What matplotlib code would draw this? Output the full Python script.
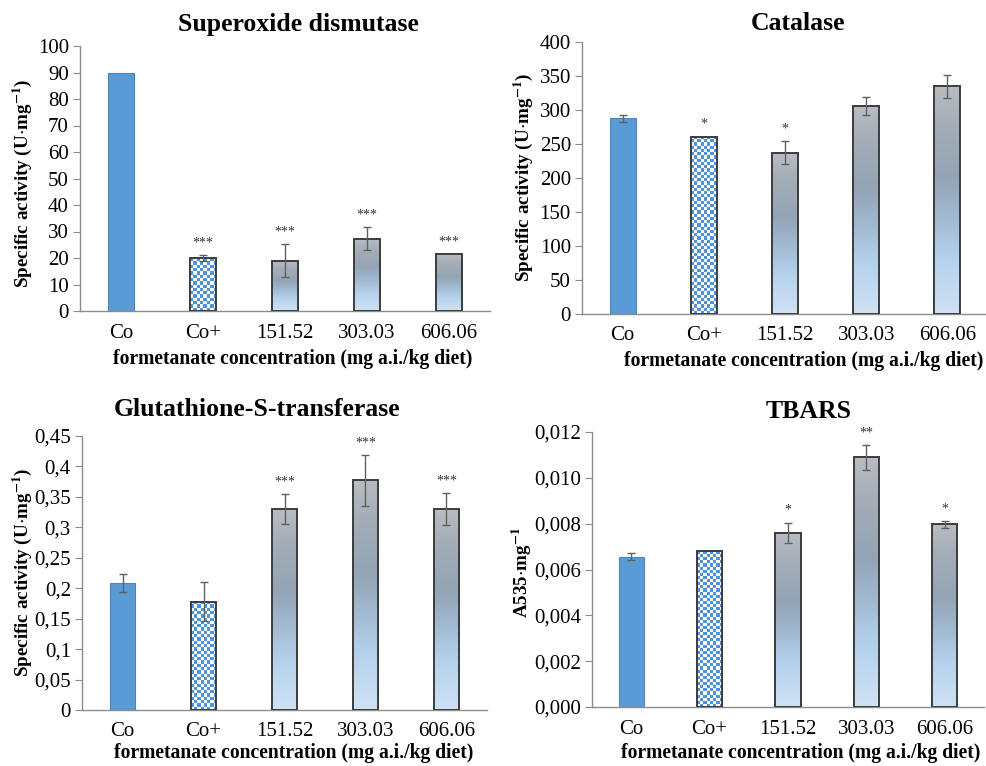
import matplotlib
matplotlib.use("Agg")
import matplotlib.pyplot as plt
import numpy as np
from matplotlib.colors import LinearSegmentedColormap

plt.rcParams['font.family'] = ['Liberation Serif', 'DejaVu Serif']
plt.rcParams['mathtext.fontset'] = 'stix'

categories = ['Co', 'Co+', '151.52', '303.03', '606.06']

sod_vals = [89.7, 20.0, 19.0, 27.3, 21.5]
sod_err = [0.0, 1.2, 6.3, 4.3, 0.0]
sod_sig = ['', '***', '***', '***', '***']

cat_vals = [288, 261, 237, 306, 335]
cat_err = [5, 0, 17, 13, 17]
cat_sig = ['', '*', '*', '', '']

gst_vals = [0.208, 0.178, 0.330, 0.377, 0.330]
gst_err = [0.015, 0.032, 0.025, 0.042, 0.026]
gst_sig = ['', '', '***', '***', '***']

tbars_vals = [0.00655, 0.0068, 0.0076, 0.0109, 0.00797]
tbars_err = [0.00015, 0.0, 0.00045, 0.00055, 0.00015]
tbars_sig = ['', '', '*', '**', '*']

grad = LinearSegmentedColormap.from_list('g', [
    (0.0, '#cfe2f4'), (0.25, '#b4d1ec'), (0.45, '#9fb6cc'),
    (0.6, '#93a4b5'), (0.85, '#a6aeb8'), (1.0, '#b9bdc2')])
checker = LinearSegmentedColormap.from_list('c', ['#ffffff', '#4f93dc'])

W, H = 987, 766
fig = plt.figure(figsize=(W / 100, H / 100), dpi=100)

BW = 0.32


def px_box(l, t, r, b):
    return [l / W, 1 - b / H, (r - l) / W, (b - t) / H]


def panel(box, vals, err, sig, ymax, ystep, fmt, title, tpos, ylabel, ylpos, xlpos, xlab_y):
    ax = fig.add_axes(px_box(*box))
    x = np.arange(len(vals))
    ticks = np.arange(0, ymax + ystep / 2, ystep)
    ax.set_yticks(ticks)
    ax.set_yticklabels([fmt(v) for v in ticks])
    ax.set_xticks(x)
    ax.set_xticklabels(categories)
    for s in ['top', 'right']:
        ax.spines[s].set_visible(False)
    for s in ['left', 'bottom']:
        ax.spines[s].set_color('#8c8c8c')
        ax.spines[s].set_linewidth(1.0)
    ax.tick_params(axis='y', direction='out', length=5, color='#8c8c8c', labelsize=15, pad=3)
    ax.tick_params(axis='x', length=0, labelsize=15, pad=9)

    bar_h_px = box[3] - box[1]
    bar_w_px = BW / 5 * (box[2] - box[0])
    for i, v in enumerate(vals):
        if i == 0:
            ax.bar(x[i], v, BW, color='#5b9bd5', edgecolor='#4a86c0', linewidth=0.8, zorder=2)
        else:
            rect = ax.bar(x[i], v, BW, facecolor='none', edgecolor='#3c3c3c',
                          linewidth=1.4, zorder=3)[0]
            ext = (x[i] - BW / 2, x[i] + BW / 2, 0, v)
            if i == 1:
                nx = 8
                ny = max(1, int(round(nx * (v / ymax * bar_h_px) / bar_w_px)))
                cells = (np.add.outer(np.arange(ny), np.arange(nx)) % 2).astype(float)
                im = ax.imshow(cells, extent=ext, cmap=checker, aspect='auto',
                               interpolation='nearest', origin='lower', zorder=2)
            else:
                g = np.linspace(0, 1, 256).reshape(-1, 1)
                im = ax.imshow(g, extent=ext, cmap=grad, vmin=0, vmax=1, aspect='auto',
                               origin='lower', zorder=2)
            im.set_clip_path(rect)
        if err[i] > 0:
            ax.errorbar(x[i], v, yerr=err[i], fmt='none', ecolor='#606060',
                        elinewidth=1.0, capsize=3, capthick=1.0, zorder=4)
    for i, s in enumerate(sig):
        if s:
            ax.annotate(s, (x[i], vals[i] + err[i]), xytext=(0, 4), textcoords='offset points',
                        ha='center', va='bottom', fontsize=10, color='#333333')
    ax.set_xlim(-0.5, 4.5)
    ax.set_ylim(0, ymax)

    fig.text(tpos[0] / W, 1 - tpos[1] / H, title, ha='center', va='center',
             fontsize=18.5, fontweight='bold')
    fig.text(ylpos[0] / W, 1 - ylpos[1] / H, ylabel, ha='center', va='center',
             rotation=90, fontsize=13.7, fontweight='bold')
    fig.text(xlpos / W, 1 - xlab_y / H, 'formetanate concentration (mg a.i./kg diet)',
             ha='center', va='center', fontsize=14.1, fontweight='bold')
    return ax


ylab = r'Specific activity (U$\cdot$mg$^{\mathbf{-1}}$)'

panel((80, 46, 490, 311), sod_vals, sod_err, sod_sig, 100, 10,
      lambda v: f'{v:.0f}', 'Superoxide dismutase', (298, 25), ylab, (22, 183), 293, 359)

panel((582, 42, 988, 314), cat_vals, cat_err, cat_sig, 400, 50,
      lambda v: f'{v:.0f}', 'Catalase', (798, 23), ylab, (523, 177), 804, 361)


def comma_fmt(v):
    s = f'{v:.2f}'.rstrip('0').rstrip('.')
    return s.replace('.', ',')


panel((82, 436, 487, 710), gst_vals, gst_err, gst_sig, 0.45, 0.05,
      comma_fmt, 'Glutathione-S-transferase', (257, 410), ylab, (22, 572), 294, 753)

panel((592, 432, 984, 707), tbars_vals, tbars_err, tbars_sig, 0.012, 0.002,
      lambda v: f'{v:.3f}'.replace('.', ','), 'TBARS', (809, 412),
      r'A535$\cdot$mg$^{\mathbf{-1}}$', (522, 572), 801, 753)

fig.savefig('out.png', dpi=100)
